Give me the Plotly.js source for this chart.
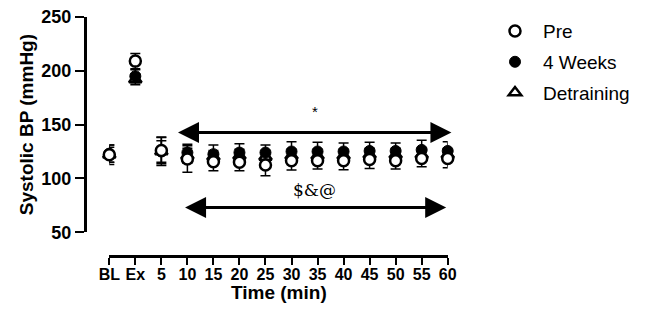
<!DOCTYPE html>
<html>
<head>
<meta charset="utf-8">
<script src="https://cdn.plot.ly/plotly-3.0.1.min.js"></script>
<style>
  html, body { margin: 0; padding: 0; background: #fff; }
  #chart { width: 648px; height: 323px; }
</style>
</head>
<body>
<div id="chart"></div>
<script>
// Time points (x positions are the category index 0..13)
const timeLabels = ['BL', 'Ex', '5', '10', '15', '20', '25', '30', '35', '40', '45', '50', '55', '60'];

// Systolic blood pressure (mmHg), mean and error
const preMean  = [122, 209, 126, 118, 115.5, 115, 112.5, 116.5, 116.5, 116.5, 117.5, 116.5, 118.5, 118.5];
const preErr   = [9, 7, 12.5, 12.4, 8.5, 8, 10, 8.7, 7.8, 8.5, 8.2, 7.8, 7.7, 8.5];
const wk4Mean  = [123, 195, 125, 124, 122.5, 124, 124, 125, 125, 125, 125.5, 125.5, 126.5, 125.5];
const wk4Err   = [8, 6, 13, 7.7, 8.5, 8.3, 7, 9, 8.5, 8, 8, 7.5, 9, 8.5];
const detMean  = [122, 192, 125, 121, 120, 121, 120, 121, 121, 121, 122, 122, 122, 122];
const detErr   = [7, 5, 10, 7, 6, 6, 6, 6, 6, 6, 6, 6, 6, 6];

const xIdx = timeLabels.map((_, i) => i);
const FONT = 'Arial, "Liberation Sans", sans-serif';

function errBar(arr) {
  return { type: 'data', array: arr, visible: true, color: '#000', thickness: 1.5, width: 5 };
}

const traces = [
  {
    name: 'Detraining', x: xIdx, y: detMean, type: 'scatter', mode: 'markers',
    legendgroup: 'c', legendrank: 3, cliponaxis: false,
    marker: { symbol: 'triangle-up-open', size: 11, color: '#000', line: { width: 2.5, color: '#000' } },
    error_y: errBar(detErr)
  },
  {
    name: '4 Weeks', x: xIdx, y: wk4Mean, type: 'scatter', mode: 'markers',
    legendgroup: 'b', legendrank: 2, cliponaxis: false,
    marker: { symbol: 'circle', size: 11, color: '#000', line: { width: 1, color: '#000' } },
    error_y: errBar(wk4Err)
  },
  {
    name: 'Pre', x: xIdx, y: preMean, type: 'scatter', mode: 'markers',
    legendgroup: 'a', legendrank: 1, cliponaxis: false,
    marker: { symbol: 'circle', size: 11, color: '#fff', line: { width: 2.5, color: '#000' } },
    error_y: errBar(preErr)
  }
];

const layout = {
  width: 648, height: 323,
  margin: { l: 85, r: 188, t: 15, b: 67 },
  paper_bgcolor: '#fff', plot_bgcolor: '#fff',
  font: { family: FONT, color: '#000' },
  showlegend: true,
  legend: {
    x: 1.072, xanchor: 'left', y: 1.02, yanchor: 'top',
    traceorder: 'grouped', tracegroupgap: 3, itemwidth: 46,
    font: { family: FONT, size: 19, color: '#000' },
    bgcolor: 'rgba(0,0,0,0)'
  },
  xaxis: {
    domain: [0.0648, 0.9672], range: [0, 13],
    anchor: 'free', position: 0,
    tickmode: 'array', tickvals: xIdx, ticktext: timeLabels,
    showgrid: false, zeroline: false,
    showline: true, linecolor: '#000', linewidth: 2.5,
    ticks: 'outside', ticklen: 7, tickwidth: 2, tickcolor: '#000',
    ticklabelstandoff: -4,
    tickfont: { family: FONT, size: 16, color: '#000', weight: 'bold' }
  },
  yaxis: {
    domain: [0.0996, 1], range: [50, 250],
    anchor: 'free', position: 0,
    tickvals: [50, 100, 150, 200, 250],
    showgrid: false, zeroline: false,
    showline: true, linecolor: '#000', linewidth: 2.5,
    ticks: 'outside', ticklen: 9, tickwidth: 2, tickcolor: '#000',
    tickfont: { family: FONT, size: 18, color: '#000', weight: 'bold' },
    title: { text: '<b>Systolic BP (mmHg)</b>', font: { family: FONT, size: 19, color: '#000' }, standoff: 1 }
  },
  annotations: [
    // x-axis title, set just under the tick labels
    { xref: 'x domain', yref: 'paper', x: 0.5, y: -0.152, yanchor: 'middle',
      text: '<b>Time (min)</b>', showarrow: false,
      font: { family: FONT, size: 19, color: '#000' } },
    // significance bracket over the recovery period
    {
      xref: 'x', yref: 'y', axref: 'x', ayref: 'y',
      x: 2.64, y: 142.6, ax: 13.2, ay: 142.6, text: '',
      showarrow: true, arrowside: 'end+start', arrowhead: 2, arrowsize: 1.4,
      arrowwidth: 3, arrowcolor: '#000'
    },
    { xref: 'x', yref: 'y', x: 7.9, y: 162.4, text: '*', showarrow: false,
      font: { family: FONT, size: 15, color: '#000' } },
    {
      xref: 'x', yref: 'y', axref: 'x', ayref: 'y',
      x: 2.91, y: 73, ax: 13.0, ay: 73, text: '',
      showarrow: true, arrowside: 'end+start', arrowhead: 2, arrowsize: 1.4,
      arrowwidth: 3, arrowcolor: '#000'
    },
    { xref: 'x', yref: 'y', x: 7.9, y: 89, text: '$&@', showarrow: false,
      font: { family: '"DejaVu Serif", "Liberation Serif", serif', size: 17, color: '#000' } }
  ]
};

Plotly.newPlot('chart', traces, layout, { displayModeBar: false, staticPlot: true });
</script>
</body>
</html>
